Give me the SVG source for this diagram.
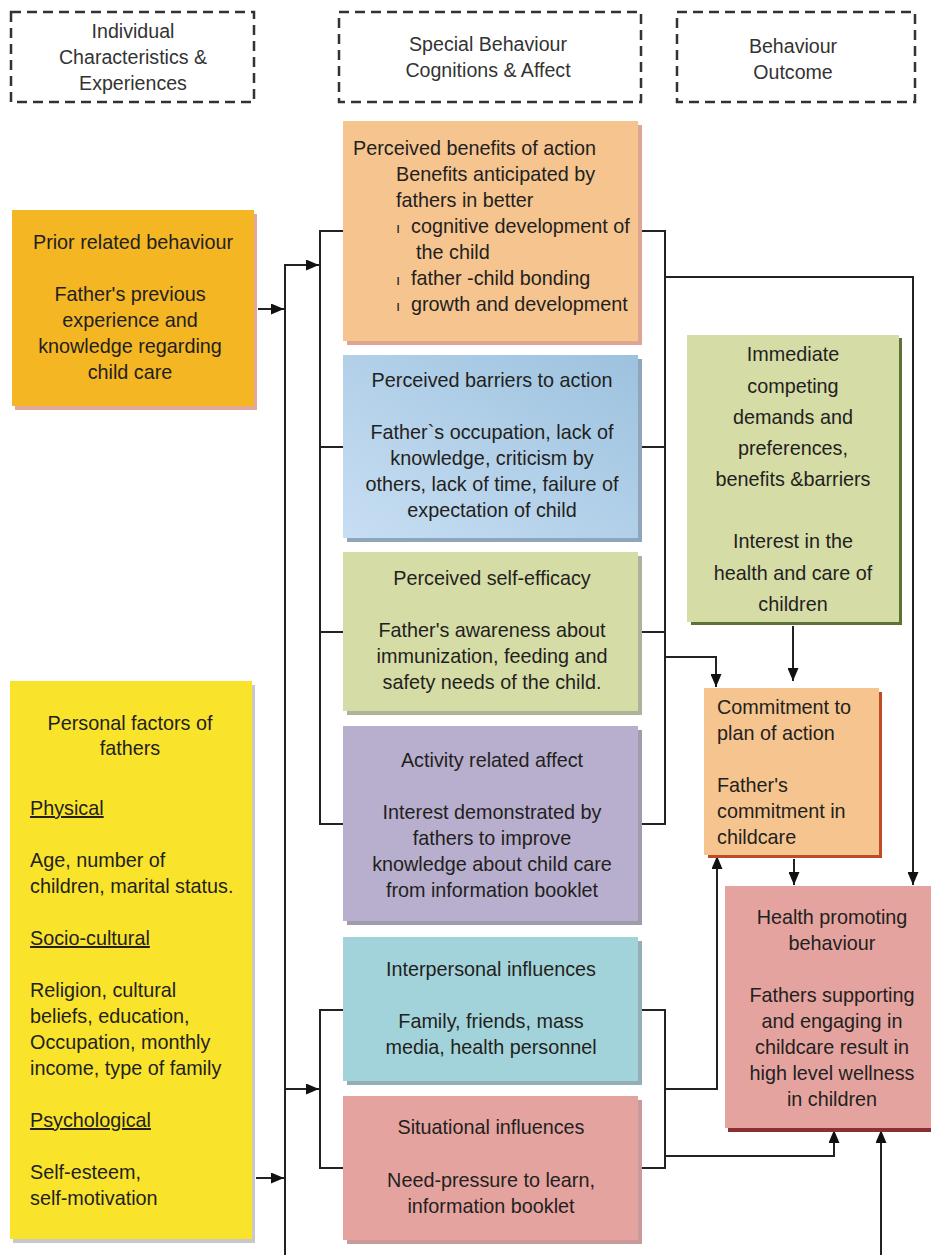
<svg xmlns="http://www.w3.org/2000/svg" width="931" height="1255" viewBox="0 0 931 1255">
<style>
text{font-family:"Liberation Sans",Arial,sans-serif;font-size:19.8px;fill:#231F20}
.c{text-anchor:middle}
.hd{font-size:19.6px;fill:#333}
.dash{fill:#fff;stroke:#333;stroke-width:2.5;stroke-dasharray:10 6}
.ln{fill:none;stroke:#222;stroke-width:2}
.u{text-decoration:underline}
</style>
<defs>
<marker id="ah" markerWidth="13" markerHeight="11" refX="13" refY="5.5" orient="auto" markerUnits="userSpaceOnUse">
<path d="M0,0 L13,5.5 L0,11 Z" fill="#111"/>
</marker>
<linearGradient id="blue" x1="0" y1="1" x2="1" y2="0">
<stop offset="0" stop-color="#C7DEF3"/>
<stop offset="1" stop-color="#9DC2DE"/>
</linearGradient>
</defs>
<rect width="931" height="1255" fill="#fff"/>

<g id="hdr1"><rect class="dash" x="11" y="12" width="243" height="90"/>
<text class="c hd"><tspan x="133" y="38">Individual</tspan><tspan x="133" y="64">Characteristics &amp;</tspan><tspan x="133" y="90">Experiences</tspan></text></g>
<g id="hdr2"><rect class="dash" x="339" y="12" width="302" height="90"/>
<text class="c hd"><tspan x="488" y="51">Special Behaviour</tspan><tspan x="488" y="77">Cognitions &amp; Affect</tspan></text></g>
<g id="hdr3"><rect class="dash" x="677" y="12" width="238" height="90"/>
<text class="c hd"><tspan x="793" y="53">Behaviour</tspan><tspan x="793" y="79">Outcome</tspan></text></g>

<g id="connectors">
<path class="ln" d="M258,309 L284,309" marker-end="url(#ah)"/>
<path class="ln" d="M256,1178 L284,1178" marker-end="url(#ah)"/>
<path class="ln" d="M285,1255 L285,265 L319,265" marker-end="url(#ah)"/>
<path class="ln" d="M285,1089 L319,1089" marker-end="url(#ah)"/>
<path class="ln" d="M343,231 L320,231 L320,824 L343,824 M320,447 L343,447 M320,632 L343,632"/>
<path class="ln" d="M343,1010 L320,1010 L320,1168 L343,1168"/>
<path class="ln" d="M638,231 L665,231 L665,824 L638,824 M638,447 L665,447 M638,632 L665,632"/>
<path class="ln" d="M638,1010 L665,1010 L665,1168 L638,1168"/>
<path class="ln" d="M665,277 L913,277 L913,885" marker-end="url(#ah)"/>
<path class="ln" d="M665,657 L716,657 L716,687" marker-end="url(#ah)"/>
<path class="ln" d="M793,626 L793,681" marker-end="url(#ah)"/>
<path class="ln" d="M794,859 L794,885" marker-end="url(#ah)"/>
<path class="ln" d="M665,1089 L717,1089 L717,856" marker-end="url(#ah)"/>
<path class="ln" d="M665,1156 L834,1156 L834,1130" marker-end="url(#ah)"/>
<path class="ln" d="M881,1255 L881,1130" marker-end="url(#ah)"/>
</g>

<g id="prior">
<rect x="15" y="214" width="242" height="196" fill="#E3A89A"/>
<rect x="12" y="210" width="242" height="196" fill="#F5B623"/>
<text class="c"><tspan x="133" y="249">Prior related behaviour</tspan><tspan x="130" y="301">Father's previous</tspan><tspan x="130" y="327">experience and</tspan><tspan x="130" y="353">knowledge regarding</tspan><tspan x="130" y="379">child care</tspan></text>
</g>

<g id="personal">
<rect x="13" y="685" width="242" height="558" fill="#C8C8C8"/>
<rect x="10" y="681" width="242" height="558" fill="#F9E42B"/>
<text class="c"><tspan x="130" y="730">Personal factors of</tspan><tspan x="130" y="755">fathers</tspan></text>
<text><tspan class="u" x="30" y="815">Physical</tspan><tspan x="30" y="867">Age, number of</tspan><tspan x="30" y="893">children, marital status.</tspan><tspan class="u" x="30" y="945">Socio-cultural</tspan><tspan x="30" y="997">Religion, cultural</tspan><tspan x="30" y="1023">beliefs, education,</tspan><tspan x="30" y="1049">Occupation, monthly</tspan><tspan x="30" y="1075">income, type of family</tspan><tspan class="u" x="30" y="1127">Psychological</tspan><tspan x="30" y="1179">Self-esteem,</tspan><tspan x="30" y="1205">self-motivation</tspan></text>
</g>

<g id="benefits">
<rect x="347" y="125" width="295" height="220" fill="#DDA592"/>
<rect x="343" y="121" width="295" height="220" fill="#F6C48F"/>
<text><tspan x="353" y="155">Perceived benefits of action</tspan><tspan x="396" y="181">Benefits anticipated by</tspan><tspan x="396" y="207">fathers in better</tspan><tspan x="411" y="233">cognitive development of</tspan><tspan x="416" y="259">the child</tspan><tspan x="411" y="285">father -child bonding</tspan><tspan x="411" y="311">growth and development</tspan></text>
<text style="font-size:15px"><tspan x="396" y="233">ı</tspan><tspan x="396" y="285">ı</tspan><tspan x="396" y="311">ı</tspan></text>
</g>

<g id="barriers">
<rect x="347" y="359" width="295" height="183" fill="#8FA5BA"/>
<rect x="343" y="355" width="295" height="183" fill="url(#blue)"/>
<text class="c"><tspan x="492" y="387">Perceived barriers to action</tspan><tspan x="492" y="439">Father`s occupation, lack of</tspan><tspan x="492" y="465">knowledge, criticism by</tspan><tspan x="492" y="491">others, lack of time, failure of</tspan><tspan x="492" y="517">expectation of child</tspan></text>
</g>

<g id="efficacy">
<rect x="347" y="556" width="295" height="159" fill="#AEB29A"/>
<rect x="343" y="552" width="295" height="159" fill="#D5DCA6"/>
<text class="c"><tspan x="492" y="585">Perceived self-efficacy</tspan><tspan x="492" y="637">Father's awareness about</tspan><tspan x="492" y="663">immunization, feeding and</tspan><tspan x="492" y="689">safety needs of the child.</tspan></text>
</g>

<g id="affect">
<rect x="347" y="730" width="295" height="195" fill="#A09CAB"/>
<rect x="343" y="726" width="295" height="195" fill="#B8AECD"/>
<text class="c"><tspan x="492" y="767">Activity related affect</tspan><tspan x="492" y="819">Interest demonstrated by</tspan><tspan x="492" y="845">fathers to improve</tspan><tspan x="492" y="871">knowledge about child care</tspan><tspan x="492" y="897">from information booklet</tspan></text>
</g>

<g id="interpersonal">
<rect x="347" y="941" width="295" height="144" fill="#93AEB5"/>
<rect x="343" y="937" width="295" height="144" fill="#A2D3DA"/>
<text class="c"><tspan x="491" y="976">Interpersonal influences</tspan><tspan x="491" y="1028">Family, friends, mass</tspan><tspan x="491" y="1054">media, health personnel</tspan></text>
</g>

<g id="situational">
<rect x="347" y="1100" width="295" height="144" fill="#C99A9A"/>
<rect x="343" y="1096" width="295" height="144" fill="#E5A39F"/>
<text class="c"><tspan x="491" y="1134">Situational influences</tspan><tspan x="491" y="1187">Need-pressure to learn,</tspan><tspan x="491" y="1213">information booklet</tspan></text>
</g>

<g id="immediate">
<rect x="691" y="338" width="211" height="287" fill="#5E7238"/>
<rect x="687" y="335" width="212" height="287" fill="#D5DCA6"/>
<text class="c"><tspan x="793" y="361">Immediate</tspan><tspan x="793" y="393">competing</tspan><tspan x="793" y="424">demands and</tspan><tspan x="793" y="455">preferences,</tspan><tspan x="793" y="486">benefits &amp;barriers</tspan><tspan x="793" y="548">Interest in the</tspan><tspan x="793" y="580">health and care of</tspan><tspan x="793" y="611">children</tspan></text>
</g>

<g id="commitment">
<rect x="708" y="692" width="174" height="166" fill="#BF4B25"/>
<rect x="704" y="688" width="175" height="167" fill="#F6C48F"/>
<text><tspan x="717" y="714">Commitment to</tspan><tspan x="717" y="740">plan of action</tspan><tspan x="717" y="792">Father's</tspan><tspan x="717" y="818">commitment in</tspan><tspan x="717" y="844">childcare</tspan></text>
</g>

<g id="health">
<rect x="728" y="890" width="210" height="242" fill="#8B2F32"/>
<rect x="725" y="886" width="210" height="242" fill="#E5A39F"/>
<text class="c"><tspan x="832" y="924">Health promoting</tspan><tspan x="832" y="950">behaviour</tspan><tspan x="832" y="1002">Fathers supporting</tspan><tspan x="832" y="1028">and engaging in</tspan><tspan x="832" y="1054">childcare result in</tspan><tspan x="832" y="1080">high level wellness</tspan><tspan x="832" y="1106">in children</tspan></text>
</g>
</svg>
